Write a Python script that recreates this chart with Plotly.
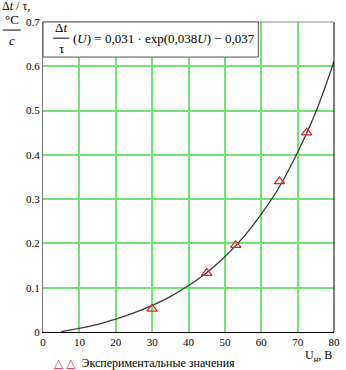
import plotly.graph_objects as go

# Fitted curve
curve_u = [5, 10, 15, 20, 25, 30, 35, 40, 45, 50, 55, 60, 65, 70, 75, 80]
curve_v = [0.001, 0.008, 0.017, 0.029, 0.043, 0.060, 0.080, 0.105, 0.134, 0.170,
           0.213, 0.266, 0.328, 0.406, 0.497, 0.611]

# Experimental points
exp_u = [30, 45, 53, 65, 72.5]
exp_v = [0.052, 0.133, 0.196, 0.340, 0.450]

x_ticks = [0, 10, 20, 30, 40, 50, 60, 70, 80]
y_ticks = [0, 0.1, 0.2, 0.3, 0.4, 0.5, 0.6, 0.7]
y_tick_text = ["0", "0.1", "0.2", "0.3", "0.4", "0.5", "0.6", "0.7"]

FONT = "Times New Roman, Liberation Serif, DejaVu Serif, serif"
GRID = "#72e272"

fig = go.Figure()
fig.add_trace(go.Scatter(x=curve_u, y=curve_v, mode="lines", line=dict(color="#3a3a3a", width=1.3, shape="spline"),
                         showlegend=False, hoverinfo="skip"))
fig.add_trace(go.Scatter(x=exp_u, y=exp_v, mode="markers",
                         marker=dict(symbol="triangle-up-open", size=9, color="#e02020", line=dict(width=1.2)),
                         showlegend=False))

fig.update_layout(
    width=346, height=370,
    margin=dict(l=43, r=6, t=22, b=38),
    paper_bgcolor="white", plot_bgcolor="white",
    font=dict(family=FONT, size=11, color="black"),
    xaxis=dict(range=[0, 80], tickvals=x_ticks, showgrid=True, gridcolor=GRID, gridwidth=1.5,
               zeroline=False, showline=True, linecolor="black", linewidth=1, mirror=False,
               ticks="", tickfont=dict(family=FONT, size=11)),
    yaxis=dict(range=[0, 0.7], tickvals=y_ticks, ticktext=y_tick_text, showgrid=True, gridcolor=GRID, gridwidth=1.5,
               zeroline=False, showline=True, linecolor="#777777", linewidth=1,
               ticks="", tickfont=dict(family=FONT, size=11)),
    shapes=[
        dict(type="line", xref="paper", yref="paper", x0=1, x1=1, y0=0, y1=1, line=dict(color="black", width=1)),
        dict(type="line", xref="paper", yref="paper", x0=0, x1=1, y0=1, y1=1, line=dict(color="#888888", width=1)),
        dict(type="rect", xref="paper", yref="paper", x0=0, x1=0.74, y0=0.887, y1=1,
             fillcolor="white", line=dict(color="#555555", width=1), layer="above"),
        dict(type="line", xref="paper", yref="paper", x0=0.035, x1=0.09, y0=0.948, y1=0.948,
             line=dict(color="black", width=1), layer="above"),
        dict(type="line", xref="paper", yref="paper", x0=-0.138, x1=-0.076, y0=0.974, y1=0.974,
             line=dict(color="black", width=1)),
    ],
    annotations=[
        dict(text="Δ<i>t</i>", xref="paper", yref="paper", x=0.062, y=0.952, xanchor="center", yanchor="bottom",
             showarrow=False, font=dict(family=FONT, size=13)),
        dict(text="τ", xref="paper", yref="paper", x=0.062, y=0.944, xanchor="center", yanchor="top",
             showarrow=False, font=dict(family=FONT, size=13)),
        dict(text="(<i>U</i>) = 0,031 · exp(0,038<i>U</i>) − 0,037", xref="paper", yref="paper",
             x=0.095, y=0.948, xanchor="left", yanchor="middle", showarrow=False, font=dict(family=FONT, size=13)),
        dict(text="Δ<i>t</i> / τ,", xref="paper", yref="paper", x=-0.148, y=1.052, xanchor="left", yanchor="middle",
             showarrow=False, font=dict(family=FONT, size=12)),
        dict(text="°C", xref="paper", yref="paper", x=-0.107, y=0.978, xanchor="center", yanchor="bottom",
             showarrow=False, font=dict(family=FONT, size=13)),
        dict(text="<i>c</i>", xref="paper", yref="paper", x=-0.107, y=0.97, xanchor="center", yanchor="top",
             showarrow=False, font=dict(family=FONT, size=13)),
        dict(text="U<sub>н</sub>, В", xref="paper", yref="paper", x=1.0, y=-0.078, xanchor="right", yanchor="middle",
             showarrow=False, font=dict(family=FONT, size=12)),
        dict(text="<span style='color:#e02020'>△ △</span>  Экспериментальные значения", xref="paper", yref="paper",
             x=0.03, y=-0.1, xanchor="left", yanchor="middle", showarrow=False, font=dict(family=FONT, size=12)),
    ],
)

fig.write_html("out.html", config={"displayModeBar": False},
               post_script="document.body.style.margin='0';document.body.style.padding='0';")
